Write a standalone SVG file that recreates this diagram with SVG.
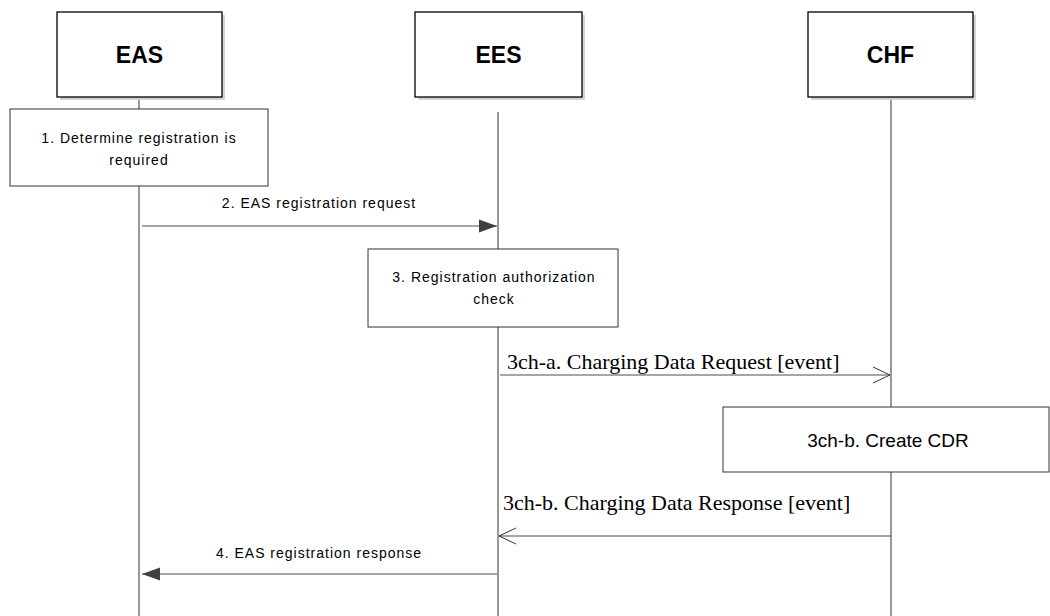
<svg xmlns="http://www.w3.org/2000/svg" width="1050" height="616" viewBox="0 0 1050 616">
<style>
.bg{fill:#ffffff}
.life{stroke:#333333;stroke-width:1;fill:none}
.actor{fill:#ffffff;stroke:#000000;stroke-width:1.3}
.shadow{fill:#d4d4d4}
.step{fill:#ffffff;stroke:#333333;stroke-width:1}
.title{font-family:"Liberation Sans",Arial,sans-serif;font-weight:bold;font-size:23px;fill:#000000;text-anchor:middle}
.lbl{font-family:"Liberation Sans",Arial,sans-serif;font-size:14px;letter-spacing:1px;fill:#000000;text-anchor:middle}
.big{font-family:"Liberation Sans",Arial,sans-serif;font-size:19px;fill:#000000;text-anchor:middle}
.serif{font-family:"Liberation Serif","Times New Roman",serif;font-size:22px;fill:#000000}
.msg{stroke:#4d4d4d;stroke-width:1;fill:none}
</style>
<defs>
<marker id="filled" markerWidth="18" markerHeight="14" refX="18" refY="7" orient="auto" markerUnits="userSpaceOnUse">
<path d="M0,0.5 L18,7 L0,13.5 Z" fill="#404040"/>
</marker>
<marker id="open" markerWidth="18" markerHeight="18" refX="17" refY="9" orient="auto" markerUnits="userSpaceOnUse">
<path d="M0,1 L17,9 L0,17" fill="none" stroke="#333333" stroke-width="1"/>
</marker>
</defs>
<rect class="bg" x="0" y="0" width="1050" height="616"/>
<g id="lifelines">
<line class="life" x1="139" y1="97" x2="139" y2="616"/>
<line class="life" x1="498" y1="112" x2="498" y2="616"/>
<line class="life" x1="891" y1="97" x2="891" y2="616"/>
</g>
<g id="EAS">
<rect class="shadow" x="60" y="15" width="165" height="85"/>
<rect class="actor" x="57" y="12" width="165" height="85"/>
<text class="title" x="139.5" y="62.5">EAS</text>
</g>
<g id="EES">
<rect class="shadow" x="418" y="15" width="167" height="85"/>
<rect class="actor" x="415" y="12" width="167" height="85"/>
<text class="title" x="498.5" y="62.5">EES</text>
</g>
<g id="CHF">
<rect class="shadow" x="811" y="15" width="165" height="85"/>
<rect class="actor" x="808" y="12" width="165" height="85"/>
<text class="title" x="890.5" y="62.5">CHF</text>
</g>
<g id="step1">
<rect class="step" x="10" y="109" width="258" height="77"/>
<text class="lbl" x="139" y="143">1. Determine registration is</text>
<text class="lbl" x="139" y="165">required</text>
</g>
<g id="step3">
<rect class="step" x="368" y="249" width="250" height="78"/>
<text class="lbl" x="494" y="282">3. Registration authorization</text>
<text class="lbl" x="494" y="304">check</text>
</g>
<g id="step3chb">
<rect class="step" x="723" y="407" width="326" height="65"/>
<text class="big" x="888" y="447">3ch-b. Create CDR</text>
</g>
<g id="connectors">
<line class="msg" x1="142" y1="226" x2="497" y2="226" marker-end="url(#filled)"/>
<text class="lbl" x="319" y="208">2. EAS registration request</text>
<line class="msg" x1="500" y1="375" x2="890" y2="375" marker-end="url(#open)"/>
<text class="serif" x="507" y="369">3ch-a. Charging Data Request [event]</text>
<line class="msg" x1="891" y1="536" x2="499" y2="536" marker-end="url(#open)"/>
<text class="serif" x="503" y="510">3ch-b. Charging Data Response [event]</text>
<line class="msg" x1="497" y1="574" x2="142" y2="574" marker-end="url(#filled)"/>
<text class="lbl" x="319" y="558">4. EAS registration response</text>
</g>
</svg>
